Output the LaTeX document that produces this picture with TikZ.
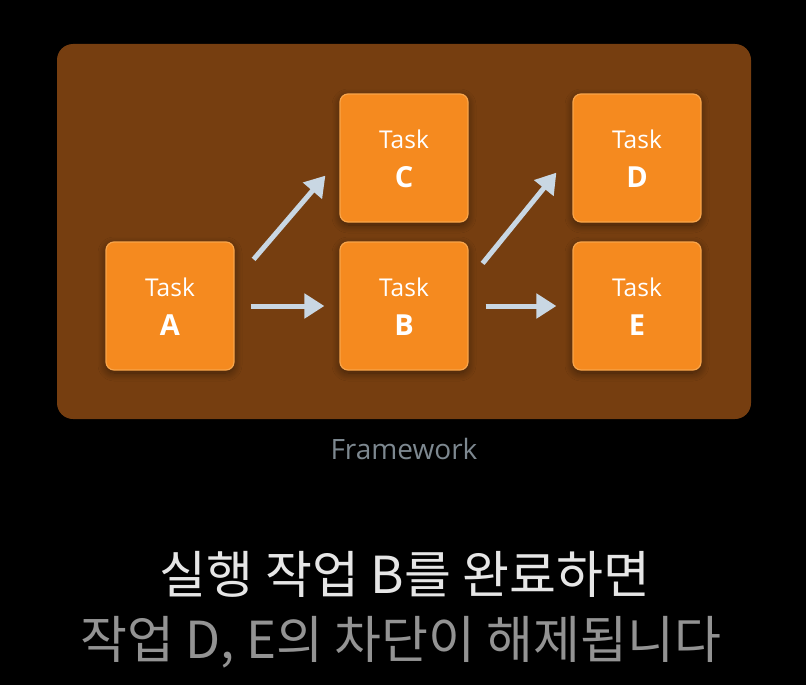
\documentclass[tikz,border=0pt]{standalone}
\usepackage{fontspec}
\setmainfont{Open Sans}
\newfontfamily\krfont{Noto Sans CJK KR}
\usetikzlibrary{arrows.meta,calc,shadows.blur}
\definecolor{bgblack}{HTML}{000000}
\definecolor{framebrown}{HTML}{763E10}
\definecolor{taskorange}{HTML}{F58A1F}
\definecolor{taskedge}{HTML}{F9A54A}
\definecolor{arrowblue}{HTML}{C9D7E3}
\definecolor{fwgray}{HTML}{7D8890}
\definecolor{lineone}{HTML}{E6E6E6}
\definecolor{linetwo}{HTML}{939393}
\tikzset{
  framebox/.style={fill=framebrown, rounded corners=16pt},
  taskbox/.style={fill=taskorange, draw=taskedge, line width=1.2pt, rounded corners=8pt,
    minimum width=128pt, minimum height=128pt, inner sep=0pt,
    blur shadow={shadow blur steps=10, shadow xshift=0pt, shadow yshift=-3pt, shadow opacity=45, shadow blur radius=8pt}},
  tasklbl/.style={anchor=base, text=white, inner sep=0pt, font=\fontsize{24.5}{28}\selectfont},
  taskletter/.style={anchor=base, text=white, inner sep=0pt, font=\fontsize{29}{32}\selectfont\bfseries},
  flow/.style={draw=arrowblue, line width=5pt, -{Triangle[length=20pt,width=24pt]}},
}
\begin{document}
\begin{tikzpicture}[x=1pt,y=-1pt]
\fill[bgblack] (0,0) rectangle (806,685);
\useasboundingbox (0,0) rectangle (806,685);
\path[framebox] (57,44) rectangle (751,419);
\foreach \n/\x/\y in {A/170/306, C/404/158, B/404/306, D/637/158, E/637/306}{
  \node[taskbox] (\n) at (\x,\y) {};
  \node[tasklbl] (\n-t) at ([yshift=-55pt]\n.north) {Task};
  \node[taskletter] (\n-l) at ([yshift=-94pt]\n.north) {\n};
}
\draw[flow, shorten <=16pt, shorten >=15pt] (A.east) -- (B.west);
\draw[flow] ($(A.north east)+(19,18)$) -- ($(C.south west)+(-14,-47)$);
\draw[flow] ($(B.north east)+(14,22)$) -- ($(D.south west)+(-16,-50)$);
\draw[flow, shorten <=17pt, shorten >=16pt] (B.east) -- (E.west);
\node[anchor=base, text=fwgray, inner sep=0pt, font=\fontsize{28}{32}\selectfont] (fw) at (404,459) {Framework};
\node[anchor=base, text=lineone, inner sep=0pt, font=\krfont\fontsize{51}{56}\selectfont] (l1) at (405,593) {실행 작업 B를 완료하면};
\node[anchor=base, text=linetwo, inner sep=0pt, font=\krfont\fontsize{51}{56}\selectfont] (l2) at (401,658) {작업 D, E의 차단이 해제됩니다};
\end{tikzpicture}
\end{document}
